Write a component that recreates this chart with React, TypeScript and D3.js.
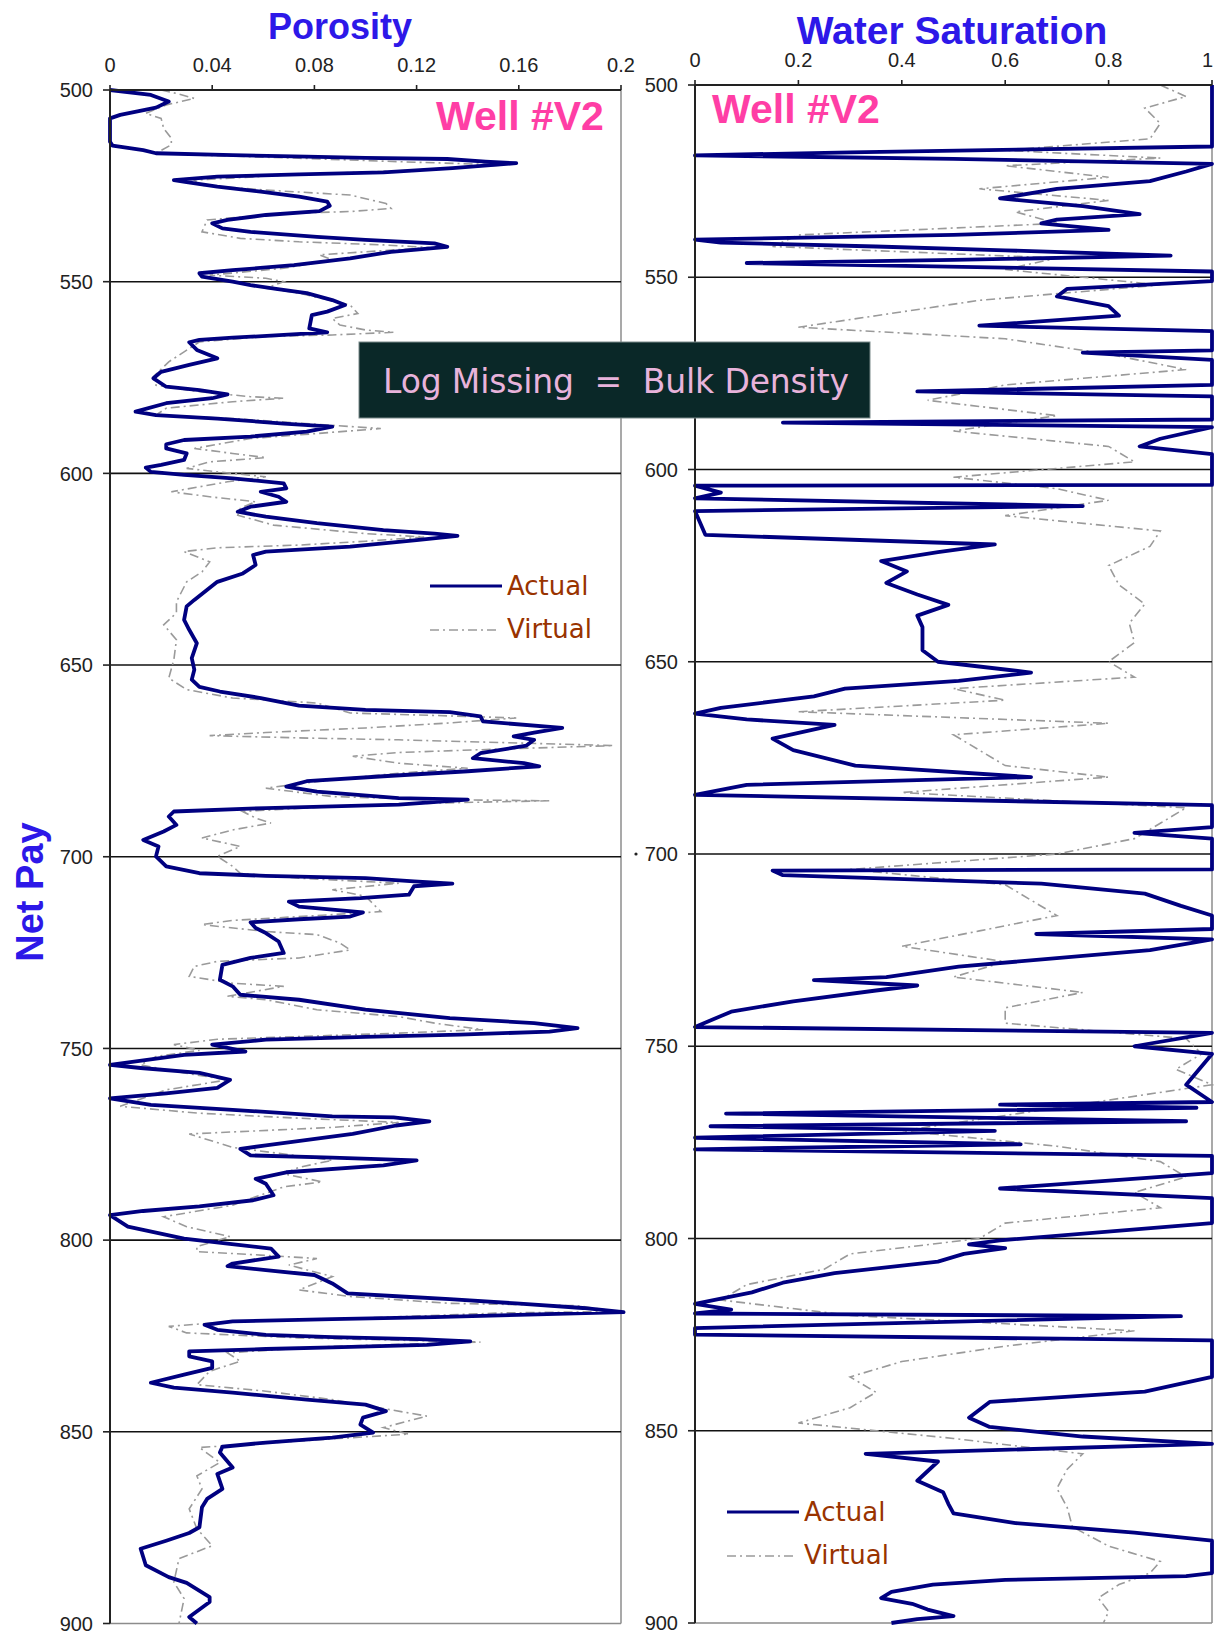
import React from 'react';
import * as d3 from 'd3';

// Depth (ft) and value pairs for each log curve
const porosityActual: [number, number][] = [
  [500, 0], [501.3, 0.016], [503, 0.023], [504.6, 0.018], [506.5, 0.004], [507.4, 0], [513.5, 0], [514.5, 0.001],
  [515.7, 0.013], [516.5, 0.018], [517, 0.048], [517.4, 0.077], [517.7, 0.1], [518, 0.132], [518.7, 0.147],
  [519.1, 0.159], [520.4, 0.134], [521.5, 0.107], [522, 0.074], [522.6, 0.042], [523.5, 0.025], [524, 0.03],
  [525.2, 0.042], [526.5, 0.059], [527.8, 0.074], [529.1, 0.085], [530.2, 0.086], [531.6, 0.082], [532.6, 0.061],
  [533.9, 0.046], [534.8, 0.04], [536.1, 0.044], [537, 0.055], [538.3, 0.081], [539.1, 0.1], [540, 0.127],
  [540.9, 0.132], [542.2, 0.11], [543.9, 0.094], [545.7, 0.072], [547, 0.048], [547.8, 0.035], [548.7, 0.036],
  [550, 0.048], [550.9, 0.055], [551.9, 0.065], [553, 0.077], [554.8, 0.087], [556.1, 0.092], [557.8, 0.085],
  [558.7, 0.079], [562.2, 0.078], [563.2, 0.085], [563.9, 0.068], [564.6, 0.048], [565.2, 0.035], [565.8, 0.031],
  [567.8, 0.034], [570, 0.042], [571.7, 0.031], [573.5, 0.02], [575.2, 0.017], [577.4, 0.022], [578.3, 0.035],
  [579.4, 0.046], [580.4, 0.04], [581.7, 0.022], [583.9, 0.01], [584.8, 0.018], [585.7, 0.042], [587, 0.068],
  [587.8, 0.087], [589.1, 0.077], [590.4, 0.055], [591.3, 0.029], [592.4, 0.022], [593.5, 0.022], [594.8, 0.03],
  [596.5, 0.029], [597.8, 0.02], [598.5, 0.014], [599.6, 0.016], [600.4, 0.029], [601.3, 0.048], [602.6, 0.068],
  [603.9, 0.069], [604.8, 0.059], [606.1, 0.066], [607.4, 0.069], [608.7, 0.055], [610, 0.05], [611.3, 0.061],
  [613, 0.081], [614.8, 0.107], [615.7, 0.127], [616.3, 0.136], [617.4, 0.12], [619.1, 0.094], [620.4, 0.061],
  [621.3, 0.056], [623.9, 0.057], [626.1, 0.052], [628.3, 0.042], [633, 0.033], [634.7, 0.03], [638.2, 0.029],
  [640.8, 0.031], [644.3, 0.034], [648.2, 0.032], [651.2, 0.033], [653.8, 0.032], [655.7, 0.035], [656.9, 0.043],
  [658.6, 0.059], [660.6, 0.074], [661.7, 0.1], [662.3, 0.133], [663.4, 0.145], [664.7, 0.146], [666.4, 0.177],
  [667.6, 0.166], [668.6, 0.158], [669.5, 0.166], [671, 0.163], [673, 0.145], [674.3, 0.142], [675.6, 0.162],
  [676.4, 0.168], [677.7, 0.14], [679, 0.107], [680.3, 0.077], [681.7, 0.069], [683, 0.081], [684.7, 0.113],
  [685.1, 0.14], [686.4, 0.113], [687.3, 0.061], [688.2, 0.025], [689.5, 0.023], [691.7, 0.026], [693.4, 0.021],
  [695.6, 0.013], [697.3, 0.019], [699.9, 0.018], [702.5, 0.022], [704.3, 0.035], [705, 0.061], [705.6, 0.1],
  [706.4, 0.119], [707, 0.134], [707.7, 0.119], [709.9, 0.117], [710.8, 0.098], [711.7, 0.07], [713, 0.074],
  [714.5, 0.099], [715.6, 0.094], [716.3, 0.074], [717.1, 0.055], [718.6, 0.057], [719.9, 0.061], [722.1, 0.066],
  [725.1, 0.068], [726.4, 0.055], [728.2, 0.044], [732.1, 0.043], [733.8, 0.048], [736, 0.051], [737.3, 0.074],
  [739.9, 0.1], [742.1, 0.133], [743.4, 0.166], [744.7, 0.183], [745.6, 0.172], [746.4, 0.137], [747, 0.1],
  [747.7, 0.061], [749, 0.04], [750.8, 0.053], [751.7, 0.029], [754.3, 0], [755.1, 0.012], [756.4, 0.035],
  [758.2, 0.047], [760.3, 0.042], [761.7, 0.022], [763, 0], [764.7, 0.016], [766, 0.048], [767.7, 0.087],
  [768, 0.111], [769, 0.125], [770.1, 0.112], [772.3, 0.095], [775.3, 0.061], [776.2, 0.051], [777.9, 0.055],
  [778.5, 0.087], [779.2, 0.12], [780.5, 0.107], [782.3, 0.069], [784, 0.057], [785.3, 0.061], [788.3, 0.064],
  [789.6, 0.056], [791.2, 0.035], [792.4, 0.013], [793.5, 0], [796.5, 0.007], [799.6, 0.029], [800.9, 0.046],
  [802.2, 0.063], [804.3, 0.066], [806.1, 0.048], [806.8, 0.046], [807.8, 0.061], [809.1, 0.08], [811.3, 0.087],
  [813.9, 0.093], [814.7, 0.114], [815.4, 0.133], [816.5, 0.159], [817.7, 0.185], [818.8, 0.201], [819.5, 0.16],
  [820.1, 0.127], [820.6, 0.087], [821.2, 0.048], [822.1, 0.037], [823.4, 0.042], [824.7, 0.061], [825.3, 0.087],
  [825.8, 0.121], [826.4, 0.141], [827.3, 0.124], [828, 0.087], [828.4, 0.061], [829, 0.031], [830.3, 0.031],
  [831.6, 0.04], [833.3, 0.04], [835.1, 0.029], [837.2, 0.016], [838.5, 0.025], [839.8, 0.048], [841.6, 0.077],
  [842.9, 0.1], [844.6, 0.108], [846.3, 0.099], [848.1, 0.098], [850.2, 0.103], [851.5, 0.087], [852.8, 0.061],
  [853.9, 0.044], [855.4, 0.043], [859.3, 0.048], [861, 0.042], [864.9, 0.044], [867.5, 0.038], [869.7, 0.036],
  [874.9, 0.035], [876.4, 0.031], [878.4, 0.022], [880.5, 0.012], [884.8, 0.014], [887.9, 0.023], [889.4, 0.03],
  [893.1, 0.039], [894.4, 0.039], [898.3, 0.031], [900, 0.034],
];

const porosityVirtual: [number, number][] = [
  [500, 0.02], [500.9, 0.026], [502.2, 0.033], [503.9, 0.022], [506.1, 0.014], [507.4, 0.02], [510, 0.021],
  [512.6, 0.024], [514.3, 0.024], [516.5, 0.018], [517, 0.035], [517.8, 0.074], [518.7, 0.113], [519.4, 0.147],
  [519.6, 0.153], [521.1, 0.113], [522, 0.074], [523.5, 0.033], [524.8, 0.035], [526.1, 0.061], [527.4, 0.094],
  [529.6, 0.108], [530.9, 0.11], [531.7, 0.094], [532.2, 0.068], [533.9, 0.038], [537, 0.036], [538.7, 0.051],
  [539.6, 0.074], [540.4, 0.107], [541.1, 0.125], [542.2, 0.1], [543, 0.082], [544.3, 0.087], [546.5, 0.068],
  [548.3, 0.039], [549.1, 0.061], [550, 0.068], [551.7, 0.061], [553, 0.074], [556.1, 0.094], [558.3, 0.097],
  [559.6, 0.087], [561.3, 0.09], [562.6, 0.1], [563.2, 0.111], [563.9, 0.087], [564.3, 0.061], [565.7, 0.035],
  [568.3, 0.029], [570.9, 0.023], [574.8, 0.017], [577, 0.018], [578.7, 0.035], [580, 0.055], [580.4, 0.068],
  [581.3, 0.048], [583, 0.022], [584.8, 0.018], [585.7, 0.048], [587.2, 0.081], [588.3, 0.106], [589.6, 0.081],
  [590.9, 0.055], [593.5, 0.033], [594.8, 0.048], [595.9, 0.061], [597, 0.039], [598.7, 0.03], [599.6, 0.042],
  [600.9, 0.061], [602.2, 0.046], [604.8, 0.024], [606.1, 0.039], [607.4, 0.057], [609.1, 0.051], [610.9, 0.05],
  [613.5, 0.064], [615.7, 0.1], [616.6, 0.123], [617.7, 0.1], [618.7, 0.074], [619.4, 0.042], [620.4, 0.029],
  [623.1, 0.039], [625.7, 0.036], [628.3, 0.03], [633.5, 0.026], [636.4, 0.026], [639.5, 0.021], [643.4, 0.026],
  [648.6, 0.025], [653.4, 0.023], [656.4, 0.03], [658.6, 0.048], [659.9, 0.081], [662.5, 0.094], [663.4, 0.14],
  [663.8, 0.159], [665.1, 0.133], [666.4, 0.1], [667.6, 0.061], [668.4, 0.039], [669, 0.074], [669.5, 0.113],
  [670.2, 0.153], [671, 0.197], [671.9, 0.153], [672.8, 0.113], [673.8, 0.095], [675.6, 0.113], [676.9, 0.14],
  [678.2, 0.113], [679.9, 0.087], [682.1, 0.061], [684.3, 0.087], [685.1, 0.127], [685.4, 0.172], [686, 0.127],
  [686.9, 0.087], [688.2, 0.052], [689.9, 0.057], [691.2, 0.063], [693, 0.048], [695.1, 0.036], [697.3, 0.051],
  [699.9, 0.042], [702.5, 0.048], [704.3, 0.051], [705.6, 0.074], [706.9, 0.113], [708.6, 0.087], [710.3, 0.1],
  [714.3, 0.106], [715.1, 0.087], [716.6, 0.048], [717.7, 0.036], [719.5, 0.061], [720.3, 0.081], [722.5, 0.09],
  [724.3, 0.094], [726.4, 0.074], [727.3, 0.042], [728.6, 0.033], [731.2, 0.031], [733, 0.048], [733.8, 0.068],
  [736.4, 0.046], [737.3, 0.061], [739.9, 0.081], [741.7, 0.113], [743.4, 0.127], [745.1, 0.146], [746, 0.113],
  [746.9, 0.074], [747.6, 0.042], [749, 0.025], [750.5, 0.035], [752.1, 0.018], [754.3, 0.012], [756.4, 0.029],
  [758.2, 0.046], [760.8, 0.022], [765.1, 0.004], [766.9, 0.035], [768.2, 0.074], [769.3, 0.113], [770.6, 0.087],
  [772.3, 0.031], [775.8, 0.048], [779.2, 0.087], [781, 0.074], [782.7, 0.068], [784.8, 0.083], [786.1, 0.068],
  [788.7, 0.057], [790.9, 0.048], [793.9, 0.021], [796.5, 0.03], [799.1, 0.047], [801.7, 0.034], [803, 0.034],
  [803.9, 0.059], [804.8, 0.081], [806.5, 0.07], [809.5, 0.087], [813, 0.074], [814.7, 0.094], [816.5, 0.133],
  [817.1, 0.183], [818.6, 0.198], [819, 0.153], [820.3, 0.1], [821.2, 0.048], [822.5, 0.023], [824.2, 0.03],
  [825.5, 0.074], [826.6, 0.145], [827.7, 0.087], [829.4, 0.046], [831.6, 0.051], [834.2, 0.039], [837.7, 0.034],
  [839.4, 0.061], [841.6, 0.087], [845.9, 0.124], [848.9, 0.107], [850.6, 0.117], [852.4, 0.074], [854.1, 0.035],
  [858, 0.043], [861.5, 0.034], [864.9, 0.036], [870.1, 0.031], [875.3, 0.034], [879.7, 0.04], [883.1, 0.027],
  [889.2, 0.025], [893.5, 0.029], [900, 0.027],
];

const swActual: [number, number][] = [
  [500, 1], [516, 1], [517.5, 0.3], [518.3, 0], [519.2, 0.5], [520.5, 1], [522.5, 0.95], [525, 0.88], [527, 0.7],
  [529.5, 0.59], [531.5, 0.75], [533.6, 0.86], [535, 0.7], [536, 0.67], [537.7, 0.8], [539, 0.5], [540.2, 0],
  [541, 0.05], [542, 0.35], [543, 0.6], [544.4, 0.92], [545.5, 0.5], [546.3, 0.1], [547.5, 0.6], [548.5, 1],
  [551, 1], [553, 0.72], [555, 0.7], [557.5, 0.8], [560, 0.82], [562.6, 0.55], [564, 1], [569, 1], [569.6, 0.75],
  [571.5, 1], [578, 1], [579.7, 0.43], [581, 1], [587, 1], [587.8, 0.17], [589, 1], [592, 0.9], [594, 0.86],
  [596, 1], [604, 1], [604.2, 0], [606, 0.05], [607.5, 0], [609.5, 0.75], [610.8, 0], [617, 0.02], [619.5, 0.58],
  [621.5, 0.47], [623.8, 0.36], [626.5, 0.41], [629.5, 0.37], [632.5, 0.43], [635.2, 0.49], [638, 0.43],
  [641, 0.44], [647, 0.44], [650, 0.47], [652.8, 0.65], [655, 0.51], [657, 0.29], [659, 0.23], [662, 0.05],
  [663.5, 0], [665, 0.1], [666.4, 0.27], [670, 0.15], [673, 0.19], [677, 0.31], [680, 0.65], [682, 0.1],
  [684.6, 0], [687.3, 1], [693, 1], [694.5, 0.85], [696, 1], [704, 1], [704.3, 0.15], [705.5, 0.17],
  [707.7, 0.67], [710.3, 0.87], [713.5, 0.94], [716, 1], [719.5, 1], [720.8, 0.66], [722.2, 1], [725, 0.88],
  [729.3, 0.51], [732, 0.37], [732.8, 0.23], [734.2, 0.43], [735.5, 0.35], [738.3, 0.19], [741, 0.07],
  [745, 0], [746.5, 1], [750, 0.85], [752, 1], [760, 0.95], [764.5, 1], [765.2, 0.59], [766, 0.97],
  [767.5, 0.06], [769.5, 0.95], [770.8, 0.03], [772, 0.58], [773.8, 0], [775.5, 0.63], [776.8, 0], [778.5, 1],
  [783, 1], [787, 0.59], [789.5, 1], [796, 1], [800.5, 0.59], [801.5, 0.53], [802.5, 0.6], [804, 0.52],
  [806, 0.47], [809, 0.27], [811.5, 0.17], [814, 0.11], [817, 0], [818.5, 0.07], [819.5, 0], [820.2, 0.94],
  [823.3, 0], [825, 0], [826.5, 1], [836, 1], [839.8, 0.87], [842.5, 0.57], [846.6, 0.53], [849, 0.57],
  [851.5, 0.75], [853.4, 1], [856, 0.33], [858, 0.47], [863, 0.43], [866, 0.48], [869, 0.49], [871.5, 0.5],
  [874, 0.62], [876.5, 0.85], [878.6, 1], [887, 1], [887.8, 0.95], [888.8, 0.6], [890, 0.46], [891.9, 0.38],
  [893.5, 0.36], [895, 0.42], [896.5, 0.45], [898.2, 0.5], [899, 0.43], [900, 0.38],
];

const swVirtual: [number, number][] = [
  [500, 0.9], [503, 0.95], [506, 0.87], [510, 0.9], [514, 0.88], [517, 0.6], [519, 0.9], [521, 0.6], [524, 0.8],
  [527, 0.55], [530, 0.8], [533, 0.62], [536, 0.7], [539, 0.2], [542, 0.15], [545, 0.7], [548, 0.6], [552, 0.9],
  [556, 0.55], [560, 0.35], [563, 0.2], [566, 0.6], [570, 0.8], [574, 0.95], [578, 0.6], [582, 0.45], [586, 0.7],
  [590, 0.5], [594, 0.8], [598, 0.85], [602, 0.5], [605, 0.7], [608, 0.8], [612, 0.6], [616, 0.9], [620, 0.88],
  [625, 0.8], [630, 0.82], [635, 0.87], [640, 0.84], [645, 0.85], [650, 0.8], [654, 0.85], [657, 0.5], [660, 0.6],
  [663, 0.2], [666, 0.8], [669, 0.5], [673, 0.55], [677, 0.6], [680, 0.8], [684, 0.4], [688, 0.95], [692, 0.9],
  [696, 0.85], [700, 0.7], [704, 0.3], [708, 0.6], [712, 0.65], [716, 0.7], [720, 0.55], [724, 0.4], [728, 0.6],
  [732, 0.5], [736, 0.75], [740, 0.6], [744, 0.6], [748, 0.95], [752, 0.98], [756, 0.93], [760, 1], [764, 0.8],
  [768, 0.6], [772, 0.4], [776, 0.7], [780, 0.9], [784, 0.95], [788, 0.85], [792, 0.9], [796, 0.6], [800, 0.55],
  [804, 0.3], [808, 0.25], [812, 0.1], [816, 0.05], [820, 0.3], [824, 0.85], [828, 0.6], [832, 0.4], [836, 0.3],
  [840, 0.35], [844, 0.3], [848, 0.2], [852, 0.5], [856, 0.75], [860, 0.72], [865, 0.7], [870, 0.72], [875, 0.73],
  [880, 0.8], [884, 0.9], [887, 0.88], [890, 0.82], [893.5, 0.78], [897, 0.8], [900, 0.79],
];

const depthTicks = [500, 550, 600, 650, 700, 750, 800, 850, 900];
const porosityTicks = [0, 0.04, 0.08, 0.12, 0.16, 0.2];
const swTicks = [0, 0.2, 0.4, 0.6, 0.8, 1];

const BLUE = '#2d18e8';
const PINK = '#ff3ea5';
const NAVY = '#000080';
const GREY = '#9a9a9a';
const BROWN = '#993300';
const AXIS_FONT = '"Liberation Sans", Arial, sans-serif';

type Box = { x0: number; x1: number; y0: number; y1: number };

function Track({ box, xMax, xTicks, actual, virtual, tickLabelY }: {
  box: Box; xMax: number; xTicks: number[]; actual: [number, number][]; virtual: [number, number][]; tickLabelY: number;
}) {
  const x = d3.scaleLinear().domain([0, xMax]).range([box.x0, box.x1]);
  const y = d3.scaleLinear().domain([500, 900]).range([box.y0, box.y1]);
  const line = d3.line<[number, number]>().x(d => x(d[1])).y(d => y(d[0]));
  return (
    <g>
      {/* plot frame: light right / bottom edges */}
      <line x1={box.x1} x2={box.x1} y1={box.y0} y2={box.y1} stroke="#8c8c8c" strokeWidth={1.5} />
      <line x1={box.x0} x2={box.x1} y1={box.y1} y2={box.y1} stroke="#8c8c8c" strokeWidth={1.5} />
      {/* depth grid lines */}
      {depthTicks.slice(1, -1).map(d => (
        <line key={d} x1={box.x0} x2={box.x1} y1={y(d)} y2={y(d)} stroke="#111" strokeWidth={1.6} />
      ))}
      {/* curves */}
      <path d={line(virtual) || ''} fill="none" stroke={GREY} strokeWidth={1.6} strokeDasharray="9,4,2,4" />
      <path d={line(actual) || ''} fill="none" stroke={NAVY} strokeWidth={3.8} strokeLinejoin="round" />
      {/* depth axis */}
      <line x1={box.x0} x2={box.x0} y1={box.y0} y2={box.y1} stroke="#222" strokeWidth={2} />
      {depthTicks.map(d => (
        <g key={d}>
          <line x1={box.x0 - 7} x2={box.x0} y1={y(d)} y2={y(d)} stroke="#222" strokeWidth={1.6} />
          <text x={box.x0 - 17} y={y(d)} dy="0.36em" textAnchor="end" fontFamily={AXIS_FONT} fontSize={20} fill="#222">
            {d}
          </text>
        </g>
      ))}
      {/* value axis along the top */}
      <line x1={box.x0} x2={box.x1} y1={box.y0} y2={box.y0} stroke="#222" strokeWidth={2} />
      {xTicks.map((t, i) => {
        const last = i === xTicks.length - 1 && x(t) > 1200;
        return (
          <g key={t}>
            <line x1={x(t)} x2={x(t)} y1={box.y0 - 5} y2={box.y0} stroke="#222" strokeWidth={1.6} />
            <text x={last ? 1213 : x(t)} y={tickLabelY} textAnchor={last ? 'end' : 'middle'}
              fontFamily={AXIS_FONT} fontSize={20} fill="#222">
              {String(t)}
            </text>
          </g>
        );
      })}
    </g>
  );
}

function Legend({ x, y }: { x: number; y: number }) {
  return (
    <g fontFamily='"DejaVu Sans", Verdana, sans-serif' fontSize={26} fill={BROWN}>
      <line x1={x} x2={x + 72} y1={y} y2={y} stroke={NAVY} strokeWidth={3.2} />
      <text x={x + 77} y={y + 9}>Actual</text>
      <line x1={x} x2={x + 70} y1={y + 44} y2={y + 44} stroke={GREY} strokeWidth={1.6} strokeDasharray="9,4,2,4" />
      <text x={x + 77} y={y + 52}>Virtual</text>
    </g>
  );
}

export default function App() {
  const left: Box = { x0: 110, x1: 621, y0: 90, y1: 1623.5 };
  const right: Box = { x0: 695, x1: 1212, y0: 85, y1: 1623 };
  const yRight = d3.scaleLinear().domain([500, 900]).range([right.y0, right.y1]);
  return (
    <svg width={1214} height={1636} viewBox="0 0 1214 1636"
      style={{ position: 'absolute', left: 0, top: 0, background: '#fff' }}>
      <rect x={0} y={0} width={1214} height={1636} fill="#fff" />
      <Track box={left} xMax={0.2} xTicks={porosityTicks} actual={porosityActual} virtual={porosityVirtual} tickLabelY={72} />
      <Track box={right} xMax={1} xTicks={swTicks} actual={swActual} virtual={swVirtual} tickLabelY={67} />
      <circle cx={636} cy={yRight(700)} r={1.6} fill="#222" />

      <g fontFamily={AXIS_FONT} fontWeight="bold" fill={BLUE}>
        <text x={340} y={39} textAnchor="middle" fontSize={36}>Porosity</text>
        <text x={952} y={44} textAnchor="middle" fontSize={39}>Water Saturation</text>
        <text transform="translate(43,892) rotate(-90)" textAnchor="middle" fontSize={38}>Net Pay</text>
      </g>

      <g fontFamily={AXIS_FONT} fontWeight="bold" fill={PINK} fontSize={41}>
        <text x={436} y={130}>Well #V2</text>
        <text x={712} y={123}>Well #V2</text>
      </g>

      <Legend x={430} y={586} />
      <Legend x={727} y={1512} />

      <rect x={359} y={342} width={511} height={76} fill="#0a2828" stroke="#7a8a8a" strokeWidth={1} />
      <text x={616} y={393} textAnchor="middle" fontFamily='"DejaVu Sans", Verdana, sans-serif' fontSize={33}
        fill="#e8b3db" textLength={466} style={{ whiteSpace: 'pre' }}>
        {'Log Missing  =  Bulk Density'}
      </text>
    </svg>
  );
}
